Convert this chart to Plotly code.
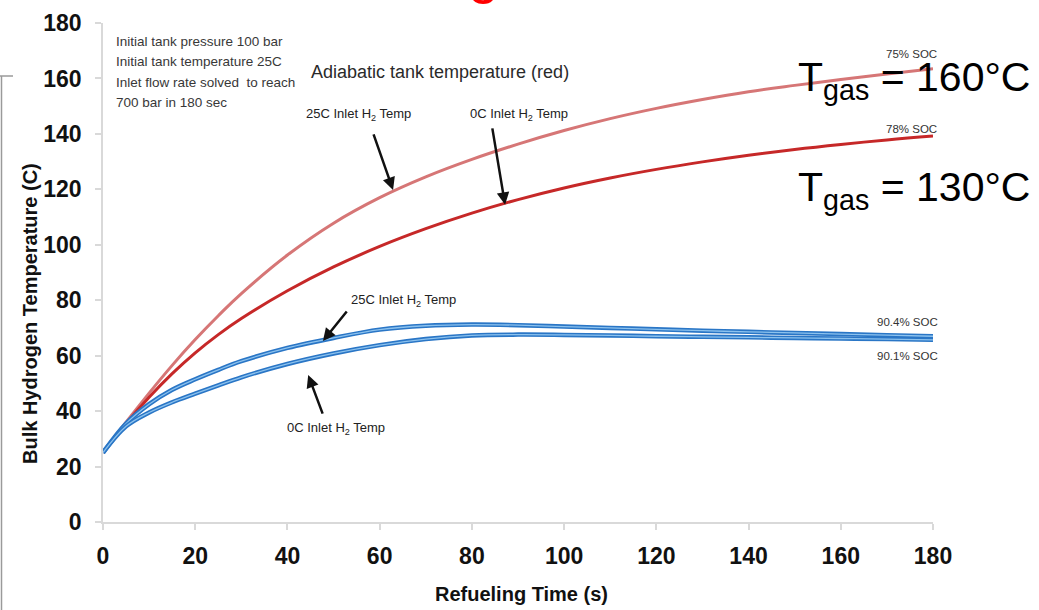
import plotly.graph_objects as go

# ---- data ----
time_s = [0, 5, 10, 15, 20, 25, 30, 40, 50, 60, 70, 80, 90, 100, 110, 120, 130, 140, 150, 160, 170, 180]
adiabatic_25C = [25, 36, 46.5, 56.5, 65.8, 74.4, 82.4, 96.3, 107.8, 117, 124.5, 130.8, 136.3, 141.2, 145.5, 149.2, 152.4, 155.2, 157.5, 159.6, 161.6, 163.5]
adiabatic_0C = [25, 35.5, 45, 53.5, 61, 67.6, 73.4, 83.4, 92, 99.4, 105.8, 111.4, 116.3, 120.5, 124.1, 127.2, 129.9, 132.3, 134.4, 136.2, 137.8, 139.2]
inlet_25C = [25, 35.5, 42.5, 47.7, 51.5, 54.9, 58, 62.8, 66.4, 69.4, 70.8, 71.2, 71, 70.5, 70, 69.5, 69, 68.6, 68.2, 67.8, 67.4, 67]
inlet_0C = [25, 34.5, 39.5, 43.2, 46.3, 49.3, 52.2, 57, 60.8, 63.8, 66, 67.3, 67.6, 67.5, 67.3, 67, 66.8, 66.6, 66.4, 66.2, 66, 65.7]
x_ticks = [0, 20, 40, 60, 80, 100, 120, 140, 160, 180]
y_ticks = [0, 20, 40, 60, 80, 100, 120, 140, 160, 180]
notes = ["Initial tank pressure 100 bar", "Initial tank temperature 25C",
         "Inlet flow rate solved  to reach", "700 bar in 180 sec"]

FONT = "Liberation Sans, Arial, sans-serif"
W, H = 1039, 610
L, R, T, B = 103, 106, 23, 88
PW, PH = W - L - R, H - T - B


def px(x):
    return (x - L) / PW


def py(y):
    return (H - B - y) / PH


fig = go.Figure()
fig.add_trace(go.Scatter(x=time_s, y=adiabatic_25C, mode="lines",
                         line=dict(color="#d67676", width=3, shape="spline", smoothing=1.2), showlegend=False))
fig.add_trace(go.Scatter(x=time_s, y=adiabatic_0C, mode="lines",
                         line=dict(color="#c62828", width=3, shape="spline", smoothing=1.2), showlegend=False))
for series in (inlet_25C, inlet_0C):
    fig.add_trace(go.Scatter(x=time_s, y=series, mode="lines",
                             line=dict(color="#2a76c6", width=4.5, shape="spline"), showlegend=False))
    fig.add_trace(go.Scatter(x=time_s, y=series, mode="lines",
                             line=dict(color="#8cc2ee", width=1.3, shape="spline"), showlegend=False))

axis_common = dict(showgrid=False, zeroline=False, showline=True, linecolor="#d9d9d9", linewidth=1.5,
                   ticks="outside", ticklen=6, tickcolor="#d9d9d9", tickwidth=1.5, automargin=False,
                   tickfont=dict(family=FONT, size=23, color="#111111", weight="bold"))
fig.update_xaxes(range=[0, 180], tickvals=x_ticks, ticklabelstandoff=7, **axis_common)
fig.update_yaxes(range=[0, 180], tickvals=y_ticks, ticklabelstandoff=9, **axis_common)


def label(text, x, y, font, **kw):
    d = dict(text=text, x=px(x), y=py(y), xref="paper", yref="paper", xanchor="center",
             yanchor="middle", showarrow=False, font=font)
    d.update(kw)
    return d


ann = []
# axis titles
ann.append(label("Refueling Time (s)", 521, 594, dict(family=FONT, size=20, color="#111111", weight="bold")))
ann.append(label("Bulk Hydrogen Temperature (C)", 30, 314,
                 dict(family=FONT, size=20, color="#111111", weight="bold"), textangle=-90))
# notes
for line, yy in zip(notes, [41.5, 61.5, 82, 102]):
    ann.append(label(line, 114, yy, dict(family=FONT, size=13.5, color="#383838"), xanchor="left"))
ann.append(label("Adiabatic tank temperature (red)", 440, 72, dict(family=FONT, size=18, color="#2a2a2a")))
small = dict(family=FONT, size=13, color="#222222")
ann.append(label("25C Inlet H<sub>2</sub> Temp", 358, 115, small))
ann.append(label("0C Inlet H<sub>2</sub> Temp", 519, 115, small))
ann.append(label("25C Inlet H<sub>2</sub> Temp", 403, 300, small))
ann.append(label("0C Inlet H<sub>2</sub> Temp", 336, 428, small))
# arrows (head in data units, tail offset in pixels)
arrow = dict(showarrow=True, arrowhead=2, arrowsize=1, arrowwidth=2.5, arrowcolor="#111111",
             axref="pixel", ayref="pixel", text="")
ann.append(dict(x=62.9, y=119.8, ax=-20, ay=-57, **arrow))
ann.append(dict(x=87.2, y=114.4, ax=-13, ay=-78, **arrow))
ann.append(dict(x=47.7, y=65.3, ax=25, ay=-31, **arrow))
ann.append(dict(x=44.5, y=53.0, ax=15, ay=40, **arrow))
# SOC labels
soc = dict(family=FONT, size=11.5, color="#333333")
for txt, xx, yy in [("75% SOC", 911, 54), ("78% SOC", 911, 129), ("90.4% SOC", 907, 322), ("90.1% SOC", 907, 356)]:
    ann.append(label(txt, xx, yy, soc))
# T_gas labels
big = dict(family=FONT, size=41, color="#000000")
ann.append(label("T<sub>gas</sub> = 160°C", 796, 80, big, xanchor="left"))
ann.append(label("T<sub>gas</sub> = 130°C", 796, 190, big, xanchor="left"))
# cropped slide title remnant (red)
ann.append(label("g", 483, 6, dict(family=FONT, size=56, color="#ff0000"), yanchor="bottom"))

shapes = [
    dict(type="line", xref="paper", yref="paper", x0=px(1.5), x1=px(1.5), y0=py(76), y1=py(612),
         line=dict(color="#9a9a9a", width=1.5)),
    dict(type="line", xref="paper", yref="paper", x0=px(0), x1=px(13), y0=py(76), y1=py(76),
         line=dict(color="#9a9a9a", width=1.5)),
]

fig.update_layout(width=W, height=H, margin=dict(l=L, r=R, t=T, b=B, autoexpand=False),
                  paper_bgcolor="white", plot_bgcolor="white", annotations=ann, shapes=shapes,
                  showlegend=False)
fig.write_html("out.html", config={"displayModeBar": False},
               post_script="document.body.style.margin='0';document.body.style.overflow='hidden';")
